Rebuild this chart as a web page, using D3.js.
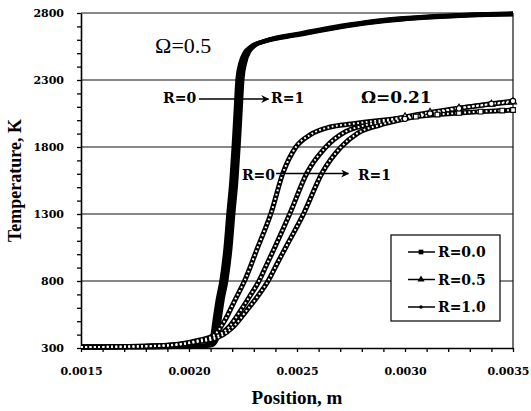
<!DOCTYPE html>
<html>
<head>
<meta charset="utf-8">
<script src="https://cdn.jsdelivr.net/npm/d3@7"></script>
<style>
  html, body { margin: 0; padding: 0; background: #fff; }
  svg { display: block; }
</style>
</head>
<body>
<svg id="chart" width="531" height="411"></svg>
<script>
// Temperature profiles through the front for two values of Ω and three values of R

const yTicks = [300, 800, 1300, 1800, 2300, 2800];
const xTicks = [0.0015, 0.0020, 0.0025, 0.0030, 0.0035];
const xTickLabels = ["0.0015", "0.0020", "0.0025", "0.0030", "0.0035"];
const seriesNames = ["R=0.0", "R=0.5", "R=1.0"];

// Ω = 0.5 : [position (m), temperature (K)]
const omega05_R00 = [
  [0.00150, 307], [0.00182, 307], [0.00205, 314], [0.002090, 322], [0.002105, 360],
  [0.002119, 509], [0.002133, 658], [0.002151, 807], [0.002170, 1054], [0.002183, 1307],
  [0.002197, 1554], [0.002207, 1800], [0.002216, 2054], [0.002225, 2307], [0.002239, 2430],
  [0.002258, 2503], [0.002286, 2548], [0.002345, 2586], [0.002510, 2638], [0.002745, 2706],
  [0.002884, 2736], [0.003116, 2767], [0.003301, 2783], [0.00350, 2791]
];
const omega05_R05 = [
  [0.00150, 307], [0.00182, 307], [0.00205, 315], [0.002097, 322], [0.002116, 360],
  [0.002130, 509], [0.002144, 658], [0.002162, 807], [0.002181, 1054], [0.002194, 1307],
  [0.002208, 1554], [0.002218, 1800], [0.002227, 2054], [0.002236, 2307], [0.002250, 2434],
  [0.002269, 2509], [0.002296, 2554], [0.002352, 2591], [0.002514, 2643], [0.002745, 2710],
  [0.002884, 2740], [0.003116, 2770], [0.003301, 2785], [0.00350, 2793]
];
const omega05_R10 = [
  [0.00150, 307], [0.00182, 307], [0.00205, 316], [0.002104, 322], [0.002127, 360],
  [0.002141, 509], [0.002155, 658], [0.002173, 807], [0.002192, 1054], [0.002205, 1307],
  [0.002219, 1554], [0.002229, 1800], [0.002238, 2054], [0.002247, 2307], [0.002261, 2438],
  [0.002280, 2514], [0.002306, 2559], [0.002360, 2596], [0.002518, 2648], [0.002745, 2714],
  [0.002884, 2745], [0.003116, 2774], [0.003301, 2788], [0.00350, 2796]
];

// Ω = 0.21 : [position (m), temperature (K)]
const omega021_R00 = [
  [0.00150, 307], [0.00182, 315], [0.00196, 330], [0.00205, 360], [0.002111, 390],
  [0.002167, 509], [0.002213, 658], [0.002259, 807], [0.002319, 1054], [0.002380, 1307],
  [0.002435, 1606], [0.002495, 1800], [0.002560, 1890], [0.002653, 1949], [0.002750, 1972],
  [0.002850, 1992], [0.002950, 2010], [0.003050, 2027], [0.003150, 2042], [0.003250, 2054],
  [0.003350, 2064], [0.003450, 2072], [0.00350, 2076]
];
const omega021_R05 = [
  [0.00150, 307], [0.00182, 314], [0.001958, 328], [0.002051, 352], [0.002111, 375],
  [0.002185, 457], [0.002241, 584], [0.002282, 688], [0.002324, 800], [0.002361, 927],
  [0.002398, 1054], [0.002468, 1307], [0.002546, 1606], [0.002634, 1800], [0.002722, 1912],
  [0.002800, 1956], [0.002884, 1985], [0.003000, 2025], [0.003116, 2058], [0.003250, 2090],
  [0.003400, 2120], [0.00350, 2136]
];
const omega021_R10 = [
  [0.00150, 307], [0.00182, 313], [0.001958, 326], [0.002051, 350], [0.002111, 365],
  [0.002199, 449], [0.002269, 584], [0.002319, 688], [0.002366, 800], [0.002407, 927],
  [0.002449, 1054], [0.002532, 1307], [0.002616, 1606], [0.002704, 1800], [0.002782, 1904],
  [0.002884, 1964], [0.003000, 2010], [0.003116, 2050], [0.003250, 2088], [0.003400, 2122],
  [0.00350, 2143]
];

const omega05Series = [omega05_R00, omega05_R05, omega05_R10];
const omega021Series = [omega021_R00, omega021_R05, omega021_R10];

const TIMES = "'Liberation Serif', 'Times New Roman', Times, serif";
const WIDE_SERIF = "'DejaVu Serif', 'Liberation Serif', serif";

const svg = d3.select("#chart");
const margin = { left: 81, right: 18, top: 13, bottom: 63 };
const W = 531, H = 411;

const x = d3.scaleLinear().domain([0.0015, 0.0035]).range([margin.left, W - margin.right]);
const y = d3.scaleLinear().domain([300, 2800]).range([H - margin.bottom, margin.top]);

const symbolTypes = [d3.symbolSquare, d3.symbolTriangle, d3.symbolCircle];

// horizontal grid lines (the top one closes the frame)
svg.append("g")
  .selectAll("line")
  .data(yTicks.filter(v => v > 300))
  .join("line")
  .attr("x1", x.range()[0]).attr("x2", x.range()[1])
  .attr("y1", d => y(d)).attr("y2", d => y(d))
  .attr("stroke", "#111").attr("stroke-width", 1.1);

// right frame line
svg.append("line")
  .attr("x1", x.range()[1]).attr("x2", x.range()[1])
  .attr("y1", y.range()[0]).attr("y2", y.range()[1])
  .attr("stroke", "#111").attr("stroke-width", 1.2);

// axes with minor ticks
const yMinor = d3.range(3, 29).map(d => d * 100);
const yAxis = d3.axisLeft(y)
  .tickValues(yMinor)
  .tickSize(4).tickSizeOuter(0).tickPadding(13)
  .tickFormat(d => yTicks.includes(d) ? String(d) : "");
const gy = svg.append("g").attr("transform", `translate(${x.range()[0]},0)`).call(yAxis);
gy.select(".domain").attr("stroke", "#000").attr("stroke-width", 1.6);
gy.selectAll(".tick line").attr("stroke", "#000").attr("stroke-width", 1.3);

const xMinor = d3.range(15, 36).map(d => d / 10000);
const xAxis = d3.axisBottom(x)
  .tickValues(xMinor)
  .tickSize(4).tickSizeOuter(0).tickPadding(15)
  .tickFormat(d => {
    const k = xTicks.findIndex(t => Math.abs(t - d) < 1e-9);
    return k >= 0 ? xTickLabels[k] : "";
  });
const gx = svg.append("g").attr("transform", `translate(0,${y.range()[0]})`).call(xAxis);
gx.select(".domain").attr("stroke", "#000").attr("stroke-width", 1.6);
gx.selectAll(".tick text").attr("dy", "0.75em");
gx.selectAll(".tick line").attr("stroke", "#000").attr("stroke-width", 1.3);

[gx, gy].forEach(g => g.selectAll(".tick text")
  .style("font-family", WIDE_SERIF).style("font-weight", "bold")
  .style("font-size", "11px").attr("fill", "#000"));
// keep the last x label inside the canvas
gx.selectAll(".tick text").filter(d => Math.abs(d - 0.0035) < 1e-9)
  .attr("text-anchor", "end").attr("dx", 16);

const line = d3.line()
  .x(d => x(d[0])).y(d => y(d[1]))
  .curve(d3.curveMonotoneX);

// Ω = 0.5: three nearly coincident solid curves
const g05 = svg.append("g");
omega05Series.forEach(s => {
  g05.append("path").datum(s)
    .attr("d", line).attr("fill", "none")
    .attr("stroke", "#000").attr("stroke-width", 4.4)
    .attr("stroke-linejoin", "round");
});

// Ω = 0.21: chains of open markers
const g021 = svg.append("g");
omega021Series.forEach(s => {
  g021.append("path").datum(s)
    .attr("d", line).attr("fill", "none")
    .attr("stroke", "#000").attr("stroke-width", 5)
    .attr("stroke-linejoin", "round");
});
omega021Series.forEach(s => {
  g021.append("path").datum(s)
    .attr("d", line).attr("fill", "none")
    .attr("stroke", "#fff").attr("stroke-width", 2)
    .attr("stroke-dasharray", "1.8,2.5");
});
omega021Series.forEach((s, i) => {
  g021.selectAll(null).data(s.filter(p => p[0] > 0.00295))
    .join("path")
    .attr("transform", d => `translate(${x(d[0])},${y(d[1])})`)
    .attr("d", d3.symbol().type(symbolTypes[i]).size(22))
    .attr("fill", "#fff").attr("stroke", "#000").attr("stroke-width", 1.1);
});

// annotations
const defs = svg.append("defs");
defs.append("marker")
  .attr("id", "arrowhead")
  .attr("viewBox", "0 0 10 10").attr("refX", 9).attr("refY", 5)
  .attr("markerWidth", 5).attr("markerHeight", 5)
  .attr("markerUnits", "strokeWidth")
  .attr("orient", "auto")
  .append("path").attr("d", "M0,0 L10,5 L0,10 L3,5 Z").attr("fill", "#000");

const arrows = [
  { x0: 0.002046, x1: 0.002368, T: 2158 },
  { x0: 0.002403, x1: 0.002738, T: 1602 }
];
svg.append("g").selectAll("line").data(arrows).join("line")
  .attr("x1", d => x(d.x0)).attr("x2", d => x(d.x1))
  .attr("y1", d => y(d.T)).attr("y2", d => y(d.T))
  .attr("stroke", "#000").attr("stroke-width", 1.6)
  .attr("marker-end", "url(#arrowhead)");

const notes = [
  { text: "Ω=0.5", x: 0.001843, T: 2501, family: TIMES, weight: "normal", size: 22 },
  { text: "Ω=0.21", x: 0.002796, T: 2131, family: WIDE_SERIF, weight: "bold", size: 17 },
  { text: "R=0", x: 0.001880, T: 2128, family: WIDE_SERIF, weight: "bold", size: 14 },
  { text: "R=1", x: 0.002380, T: 2128, family: WIDE_SERIF, weight: "bold", size: 14 },
  { text: "R=0", x: 0.002245, T: 1557, family: WIDE_SERIF, weight: "bold", size: 14 },
  { text: "R=1", x: 0.002782, T: 1557, family: WIDE_SERIF, weight: "bold", size: 14 }
];
svg.append("g").selectAll("text").data(notes).join("text")
  .attr("x", d => x(d.x)).attr("y", d => y(d.T))
  .style("font-family", d => d.family)
  .style("font-weight", d => d.weight)
  .style("font-size", d => d.size + "px")
  .attr("fill", "#000")
  .text(d => d.text);

// axis titles
svg.append("text")
  .attr("transform", `translate(21,${(y.range()[0] + y.range()[1]) / 2}) rotate(-90)`)
  .attr("text-anchor", "middle")
  .style("font-family", TIMES).style("font-weight", "bold").style("font-size", "18px")
  .text("Temperature, K");
svg.append("text")
  .attr("x", (x.range()[0] + x.range()[1]) / 2).attr("y", 404)
  .attr("text-anchor", "middle")
  .style("font-family", TIMES).style("font-weight", "bold").style("font-size", "19px")
  .text("Position, m");

// legend
const legend = svg.append("g").attr("transform", "translate(391,235)");
legend.append("rect").attr("width", 109).attr("height", 86)
  .attr("fill", "#fff").attr("stroke", "#000").attr("stroke-width", 1.2);
const items = legend.selectAll("g.item").data(seriesNames).join("g")
  .attr("class", "item")
  .attr("transform", (d, i) => `translate(0,${17 + i * 27.5})`);
items.append("line").attr("x1", 17).attr("x2", 44).attr("y1", 0).attr("y2", 0)
  .attr("stroke", "#000").attr("stroke-width", 1.5);
items.append("path")
  .attr("transform", "translate(30,0)")
  .attr("d", (d, i) => d3.symbol().type(symbolTypes[i]).size(i === 2 ? 10 : 22)())
  .attr("fill", "#000");
items.append("text")
  .attr("x", 47).attr("y", 5)
  .style("font-family", WIDE_SERIF).style("font-weight", "bold").style("font-size", "14px")
  .text(d => d);
</script>
</body>
</html>
